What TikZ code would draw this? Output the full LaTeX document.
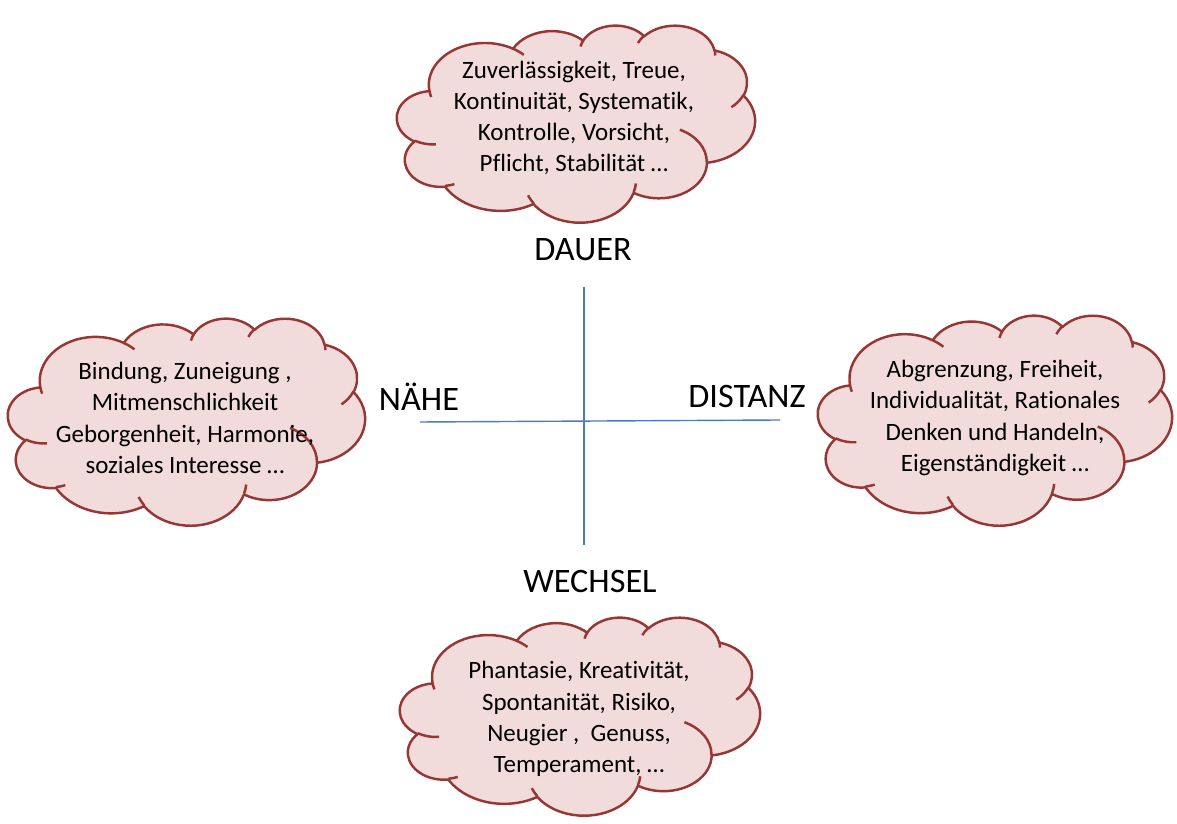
\documentclass[tikz,border=0pt]{standalone}
\usepackage{fontspec}
\setmainfont{Carlito}[RawFeature=-liga]
\definecolor{cloudfill}{HTML}{F2DCDB}
\definecolor{cloudline}{HTML}{953735}
\definecolor{axisblue}{HTML}{4A7EBB}
\tikzset{
  % Bogen: Radien (in 1/43200), Startwinkel, Winkelweite
  bogen/.style n args={4}{insert path={arc[start angle=#3, delta angle=#4,
      x radius={#1/4320/10}, y radius={#2/4320/10}]}},
  wolkenlinie/.style={draw=cloudline, line width=1.4pt, line join=round},
  pics/wolke/.style={code={
    \draw[wolkenlinie, fill=cloudfill] (0.09028,0.33264)
      [bogen={6753}{9190}{172.26}{128.11}]
      [bogen={5333}{7267}{-152.04}{106.59}]
      [bogen={4365}{5945}{-153.49}{116.16}]
      [bogen={4857}{6595}{-139.70}{129.49}]
      [bogen={5333}{7273}{-74.77}{97.99}]
      [bogen={6775}{9220}{-37.52}{119.38}]
      [bogen={5785}{7867}{0.46}{121.52}]
      [bogen={6752}{9215}{16.85}{129.40}]
      [bogen={7720}{10543}{58.98}{91.22}]
      [bogen={4360}{5918}{83.31}{139.79}]
      [bogen={4345}{5945}{120.35}{143.76}] -- cycle;
    \draw[wolkenlinie]
      (0.10863,0.60595) [bogen={4345}{5945}{85.55}{34.80}]
      (0.16037,0.80785) [bogen={4360}{5918}{68.24}{15.07}]
      (0.38144,0.90486) [bogen={6752}{9215}{146.25}{12.22}]
      (0.66729,0.80442) [bogen={6752}{9215}{4.74}{12.11}]
      (0.79002,0.53134) [bogen={5785}{7867}{-64.03}{64.49}]
      (0.96755,0.35542) [bogen={5333}{7273}{23.22}{26.42}]
      (0.88713,0.12560) [bogen={4857}{6595}{-10.21}{11.03}]
      (0.67310,0.09148) [bogen={4857}{6595}{-156.27}{16.57}]
      (0.51252,0.10926) [bogen={4365}{5945}{-167.73}{14.24}]
      (0.32407,0.12019) [bogen={6753}{9190}{-59.64}{13.91}]
      (0.09553,0.36549) [bogen={6753}{9190}{163.19}{9.07}];
  }},
  wolkentext/.style={align=center, font=\fontsize{14.2}{17.8}\selectfont},
  achse/.style={font=\fontsize{19.5}{23}\selectfont}
}
\begin{document}
\begin{tikzpicture}
\useasboundingbox (0,0) rectangle (23.54,16.48);
% Wolken
\pic[xscale=7.16, yscale=-3.94] (wdauer) at (7.94,15.98) {wolke};
\pic[xscale=7.14, yscale=-4.14] (wnaehe) at (0.16,10.12) {wolke};
\pic[xscale=7.08, yscale=-4.2] (wdistanz) at (16.36,10.18) {wolke};
\pic[xscale=7.2, yscale=-3.96] (wwechsel) at (8.0,4.14) {wolke};
\node[wolkentext] (tdauer) at (11.48,14.12) {Zuverlässigkeit, Treue,\\Kontinuität, Systematik,\\Kontrolle, Vorsicht,\\Pflicht, Stabilität \dots};
\node[wolkentext] (tnaehe) at (3.7,8.12) {Bindung, Zuneigung ,\\Mitmenschlichkeit\\Geborgenheit, Harmonie,\\soziales Interesse \dots};
\node[wolkentext] (tdistanz) at (19.9,8.12) {Abgrenzung, Freiheit,\\Individualität, Rationales\\Denken und Handeln,\\Eigenständigkeit \dots};
\node[wolkentext] (twechsel) at (11.58,2.1) {Phantasie, Kreativität,\\Spontanität, Risiko,\\Neugier ,~ Genuss,\\Temperament, \dots};
% Achsen
\coordinate (oben) at (11.68,10.74);
\coordinate (unten) at (11.68,5.58);
\coordinate (links) at (8.4,8.04);
\coordinate (rechts) at (15.6,8.08);
\draw[axisblue, line width=0.8pt] (oben) -- (unten);
\draw[axisblue, line width=0.8pt] (links) -- (rechts);
\node[achse] (ldauer) at (11.66,11.48) {DAUER};
\node[achse] (lnaehe) at (8.38,8.54) {NÄHE};
\node[achse] (ldistanz) at (14.94,8.54) {DISTANZ};
\node[achse] (lwechsel) at (11.8,4.84) {WECHSEL};
\end{tikzpicture}
\end{document}
